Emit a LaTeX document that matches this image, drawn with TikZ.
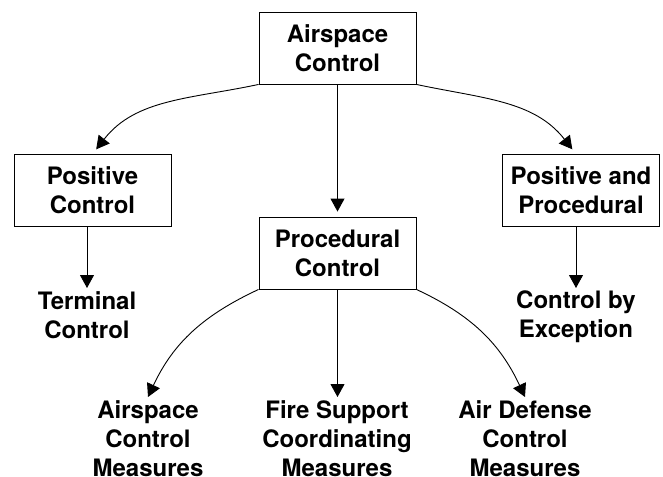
\documentclass[tikz,border=0pt]{standalone}
\usepackage{fontspec}
\setmainfont{TeX Gyre Heros}
\usetikzlibrary{arrows.meta}

\tikzset{
  box/.style={draw, line width=0.9pt, minimum width=157pt, minimum height=72pt,
              inner sep=0pt, align=center, font=\bfseries\fontsize{24}{29}\selectfont},
  leaf/.style={anchor=north, inner sep=3pt, align=center,
               font=\bfseries\fontsize{24}{29}\selectfont},
  arr/.style={line width=0.9pt, -{Triangle[length=13pt,width=14pt]}},
}

\begin{document}
\begin{tikzpicture}[x=1pt,y=1pt]
  \useasboundingbox (0,0) rectangle (663,-476);

  % boxes
  \node[box] (ac)  at (337.5,-48)  {Airspace\\Control};
  \node[box] (pc)  at (92.5,-190.5) {Positive\\Control};
  \node[box] (pp)  at (581,-190.5)  {Positive and\\Procedural};
  \node[box] (prc) at (337.5,-253)  {Procedural\\Control};

  % unboxed leaves
  \node[leaf] (tc)  at (87,-288)  {Terminal\\Control};
  \node[leaf] (cbe) at (576,-288) {Control by\\Exception};
  \node[leaf] (acm) at (148,-397) {Airspace\\Control\\Measures};
  \node[leaf] (fsc) at (337,-397) {Fire Support\\Coordinating\\Measures};
  \node[leaf] (adc) at (525,-397) {Air Defense\\Control\\Measures};

  % top level
  \draw[arr, shorten >=6pt] (ac.south west) to[out=192,in=52] (pc.north);
  \draw[arr, shorten >=5pt] (ac.south) -- (prc.north);
  \draw[arr, shorten >=6pt] (ac.south east) to[out=-12,in=128] ([xshift=-5pt]pp.north);

  % second level
  \draw[arr] (pc.south -| tc.north) -- (tc.north);
  \draw[arr] (pp.south -| cbe.north) -- (cbe.north);
  \draw[arr] (prc.south west) to[out=205,in=65] (acm.north);
  \draw[arr] (prc.south) -- (prc.south |- fsc.north);
  \draw[arr] (prc.south east) to[out=-25,in=115] (adc.north);
\end{tikzpicture}
\end{document}
